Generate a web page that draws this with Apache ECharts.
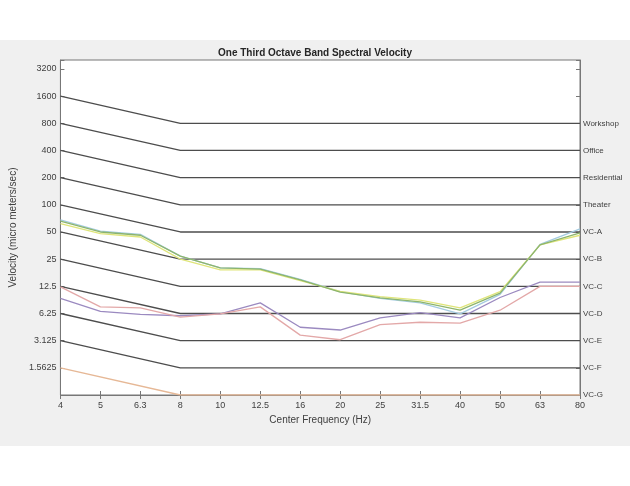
<!DOCTYPE html>
<html>
<head>
<meta charset="utf-8">
<script src="https://cdn.jsdelivr.net/npm/echarts@6/dist/echarts.min.js"></script>
<style>
html,body{margin:0;padding:0;background:#fff;}
#c{width:630px;height:486px;}
</style>
</head>
<body>
<div id="c"></div>
<script>
// Center frequencies (Hz)
var freqs = ['4','5','6.3','8','10','12.5','16','20','25','31.5','40','50','63','80'];
// Criterion names and flat levels (micro m/s)
var critNames = ['Workshop','Office','Residential','Theater','VC-A','VC-B','VC-C','VC-D','VC-E','VC-F','VC-G'];
var critLevels = [800,400,200,100,50,25,12.5,6.25,3.125,1.5625,0.78125];
// Criterion curve shape relative to the flat level (null = connected straight)
var critShape = [2,null,null,1,1,1,1,1,1,1,1,1,1,1];
// Measured spectra (micro m/s)
var seriesGreen  = [66, 50, 46, 27, 20, 19.4, 14.7, 10.8, 9.3, 8.4, 6.8, 10.5, 36, 49];
var seriesYellow = [62, 48, 44, 25, 19, 19.0, 14.5, 11.0, 9.6, 8.8, 7.2, 10.9, 36, 46];
var seriesBlue   = [68, 51, 47, 27, 20, 19.6, 14.9, 10.9, 9.2, 8.2, 6.2, 10.2, 36.5, 54];
var seriesPurple = [9.2, 6.6, 6.1, 5.9, 6.2, 8.2, 4.4, 4.1, 5.6, 6.4, 5.6, 9.4, 13.9, 13.9];
var seriesPink   = [12.3, 7.4, 7.2, 5.7, 6.2, 7.4, 3.6, 3.2, 4.7, 5.0, 4.9, 6.8, 12.5, 12.5];
// Tick label base (lowest axis value)
var yBase = 0.78125;

function tr(v){ return v == null ? null : Math.log2(v / yBase); }
function isInt(v){ return Math.abs(v - Math.round(v)) < 1e-6; }

var font = 'Liberation Sans, Arial, sans-serif';
var series = [];
critLevels.forEach(function(lv, i){
  series.push({
    type:'line', name: critNames[i], symbol:'none', connectNulls:true,
    data: critShape.map(function(s){ return s == null ? null : tr(lv * s); }),
    lineStyle:{ color: i === critLevels.length-1 ? '#e6b896' : '#4d4d4d', width: 1.3 },
    z: 2, silent:true
  });
});
var dataSets = [
  [seriesBlue, '#a4cbe0'],
  [seriesYellow, '#dfe57a'],
  [seriesGreen, '#8db56c'],
  [seriesPurple, '#9b8ac0'],
  [seriesPink, '#e3a8a8']
];
dataSets.forEach(function(d){
  series.push({
    type:'line', symbol:'none',
    data: d[0].map(tr),
    lineStyle:{ color: d[1], width: 1.3 },
    z: 3, silent:true
  });
});

var chart = echarts.init(document.getElementById('c'));
chart.setOption({
  animation:false,
  backgroundColor:'#ffffff',
  graphic:[{ type:'rect', shape:{x:0,y:40,width:630,height:406}, style:{fill:'#f0f0f0'}, z:-10 }],
  title:{ text:'One Third Octave Band Spectral Velocity', left:'center', top:43,
    textStyle:{ fontSize:10, fontWeight:'bold', color:'#262626', fontFamily:font } },
  grid:{ left:58, right:50, top:60, bottom:91, show:true, backgroundColor:'#ffffff', borderColor:'#777', borderWidth:1 },
  xAxis:[{
    type:'category', data:freqs, boundaryGap:false, position:'bottom',
    name:'Center Frequency (Hz)', nameLocation:'middle', nameGap:20,
    nameTextStyle:{ fontSize:10, color:'#404040', fontFamily:font },
    axisLine:{ lineStyle:{ color:'#777' } },
    axisTick:{ inside:true, length:4, lineStyle:{ color:'#777' } },
    axisLabel:{ fontSize:9, color:'#404040', margin:6, fontFamily:font }
  },{
    type:'category', data:freqs, boundaryGap:false, position:'top',
    axisLine:{ lineStyle:{ color:'#777' } },
    axisTick:{ inside:true, length:4, lineStyle:{ color:'#777' } },
    axisLabel:{ show:false }
  }],
  yAxis:[{
    type:'value', min:0, max:12.33, interval:1, position:'left',
    name:'Velocity (micro meters/sec)', nameLocation:'middle', nameGap:36,
    nameTextStyle:{ fontSize:10, color:'#404040', fontFamily:font },
    splitLine:{ show:false },
    axisLine:{ show:true, lineStyle:{ color:'#777' } },
    axisTick:{ show:true, inside:true, length:4, lineStyle:{ color:'#777' } },
    axisLabel:{ fontSize:9, color:'#404040', margin:4, fontFamily:font,
      formatter:function(v){ return (isInt(v) && v >= 1 && v <= 12.01) ? String(yBase * Math.pow(2, Math.round(v))) : ''; } }
  },{
    type:'value', min:0, max:12.33, interval:1, position:'right',
    splitLine:{ show:false },
    axisLine:{ show:true, lineStyle:{ color:'#777' } },
    axisTick:{ show:true, inside:true, length:4, lineStyle:{ color:'#777' } },
    axisLabel:{ fontSize:8, color:'#404040', margin:3, fontFamily:font,
      formatter:function(v){ if(!isInt(v)) return ''; var k = Math.round(v); var idx = critLevels.length - 1 - k; return (idx >= 0 && idx < critNames.length) ? critNames[idx] : ''; } }
  }],
  series: series
});
</script>
</body>
</html>
